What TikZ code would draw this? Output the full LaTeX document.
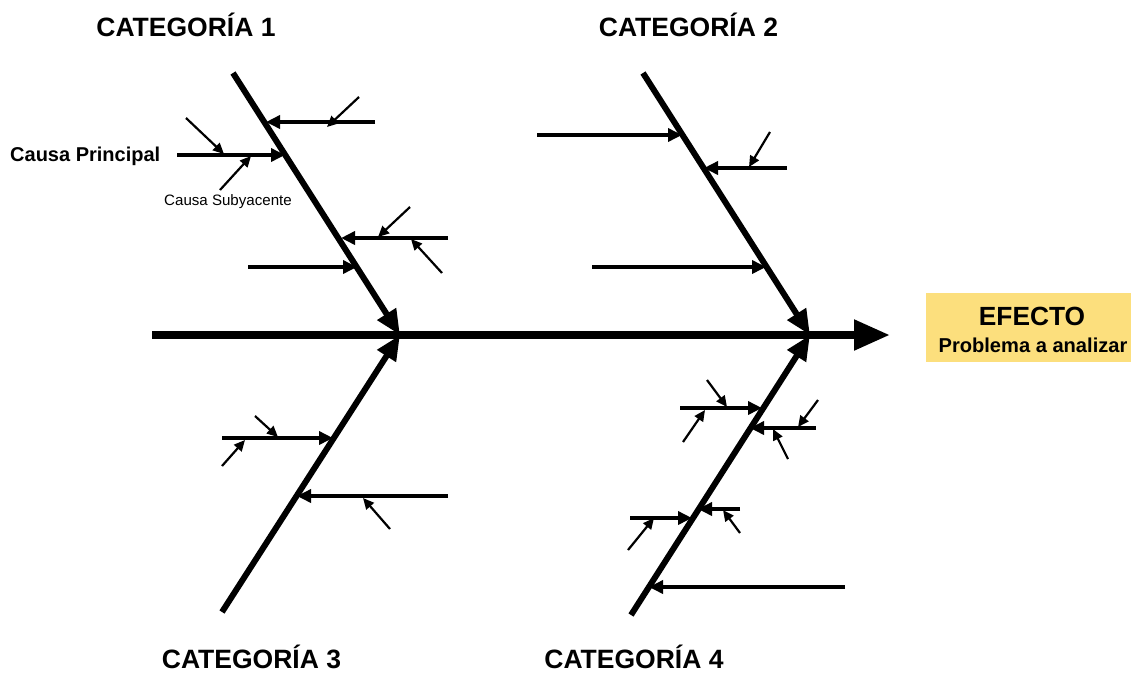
\documentclass[tikz,border=0pt]{standalone}
\usepackage{fontspec}
\setmainfont{Liberation Sans}
\usetikzlibrary{arrows.meta}
\definecolor{efecto}{RGB}{252,223,125}
\begin{document}
\begin{tikzpicture}[x=1pt,y=-1pt,
  spine/.style={line width=8pt,-{Triangle[length=36pt,width=29pt]}},
  bone/.style={line width=6pt,-{Triangle[length=25pt,width=21pt]}},
  cause/.style={line width=4.8pt,-{Triangle[length=14pt,width=13pt]}},
  subcause/.style={line width=2.2pt,-{Triangle[length=11pt,width=10pt]}},
  cattitle/.style={font=\bfseries\fontsize{26.5}{30}\selectfont,inner sep=0pt,anchor=base},
]
\useasboundingbox (0,0) rectangle (1131,673);

% main spine towards the effect
\coordinate (sp0) at (152,335);
\coordinate (sp1) at (890,335);
\draw[spine] (sp0) -- (sp1);

% effect box
\node[fill=efecto,minimum width=205pt,minimum height=69pt,inner sep=0pt] (eff) at (1028.5,327.5) {};
\node[font=\bfseries\fontsize{26.3}{29}\selectfont,inner sep=0pt] (effT) at (1032,316) {EFECTO};
\node[font=\bfseries\fontsize{20.1}{23}\selectfont,inner sep=0pt] (effS) at (1033,345) {Problema a analizar};

% category bones
\coordinate (b1s) at (233,73);  \coordinate (b1e) at (400,335);
\coordinate (b2s) at (643,73);  \coordinate (b2e) at (810,335);
\coordinate (b3s) at (222,612); \coordinate (b3e) at (400,335);
\coordinate (b4s) at (631,615); \coordinate (b4e) at (810,335);
\draw[bone] (b1s) -- (b1e);
\draw[bone] (b2s) -- (b2e);
\draw[bone] (b3s) -- (b3e);
\draw[bone] (b4s) -- (b4e);

% category titles
\node[cattitle] (t1) at (186,36) {CATEGORÍA 1};
\node[cattitle] (t2) at (688.5,36) {CATEGORÍA 2};
\node[cattitle] (t3) at (251.5,668) {CATEGORÍA 3};
\node[cattitle] (t4) at (634,668) {CATEGORÍA 4};

% --- category 1 causes
\coordinate (c11a) at (375,122); \coordinate (c11b) at (266,122);
\coordinate (s11a) at (359,97);  \coordinate (s11b) at (327,127);
\draw[cause] (c11a) -- (c11b);
\draw[subcause] (s11a) -- (s11b);

\coordinate (c12a) at (177,155); \coordinate (c12b) at (285,155);
\coordinate (s12a) at (186,118); \coordinate (s12b) at (224,154);
\coordinate (s13a) at (220,190); \coordinate (s13b) at (251,156);
\draw[cause] (c12a) -- (c12b);
\draw[subcause] (s12a) -- (s12b);
\draw[subcause] (s13a) -- (s13b);
\node[font=\bfseries\fontsize{20}{23}\selectfont,anchor=west,inner sep=0pt] (cp) at (10,156) {Causa Principal};
\node[font=\fontsize{15.1}{18}\selectfont,anchor=west,inner sep=0pt] (cs) at (164,202) {Causa Subyacente};

\coordinate (c13a) at (448,238); \coordinate (c13b) at (341,238);
\coordinate (s14a) at (410,207); \coordinate (s14b) at (378,237);
\coordinate (s15a) at (442,273); \coordinate (s15b) at (411,239);
\draw[cause] (c13a) -- (c13b);
\draw[subcause] (s14a) -- (s14b);
\draw[subcause] (s15a) -- (s15b);

\coordinate (c14a) at (248,267); \coordinate (c14b) at (357,267);
\draw[cause] (c14a) -- (c14b);

% --- category 2 causes
\coordinate (c21a) at (537,135); \coordinate (c21b) at (682,135);
\draw[cause] (c21a) -- (c21b);

\coordinate (c22a) at (787,168); \coordinate (c22b) at (704,168);
\coordinate (s21a) at (770,132); \coordinate (s21b) at (749,167);
\draw[cause] (c22a) -- (c22b);
\draw[subcause] (s21a) -- (s21b);

\coordinate (c23a) at (592,267); \coordinate (c23b) at (766,267);
\draw[cause] (c23a) -- (c23b);

% --- category 3 causes
\coordinate (c31a) at (222,438); \coordinate (c31b) at (333,438);
\coordinate (s31a) at (255,416); \coordinate (s31b) at (278,437);
\coordinate (s32a) at (222,466); \coordinate (s32b) at (245,440);
\draw[cause] (c31a) -- (c31b);
\draw[subcause] (s31a) -- (s31b);
\draw[subcause] (s32a) -- (s32b);

\coordinate (c32a) at (448,496); \coordinate (c32b) at (297,496);
\coordinate (s33a) at (390,529); \coordinate (s33b) at (363,498);
\draw[cause] (c32a) -- (c32b);
\draw[subcause] (s33a) -- (s33b);

% --- category 4 causes
\coordinate (c41a) at (680,408); \coordinate (c41b) at (762,408);
\coordinate (s41a) at (707,380); \coordinate (s41b) at (727,407);
\coordinate (s42a) at (683,442); \coordinate (s42b) at (705,410);
\draw[cause] (c41a) -- (c41b);
\draw[subcause] (s41a) -- (s41b);
\draw[subcause] (s42a) -- (s42b);

\coordinate (c42a) at (816,428); \coordinate (c42b) at (750,428);
\coordinate (s43a) at (818,400); \coordinate (s43b) at (798,427);
\coordinate (s44a) at (788,459); \coordinate (s44b) at (773,429);
\draw[cause] (c42a) -- (c42b);
\draw[subcause] (s43a) -- (s43b);
\draw[subcause] (s44a) -- (s44b);

\coordinate (c43a) at (630,518); \coordinate (c43b) at (692,518);
\coordinate (s45a) at (628,550); \coordinate (s45b) at (654,518);
\draw[cause] (c43a) -- (c43b);
\draw[subcause] (s45a) -- (s45b);

\coordinate (c44a) at (740,509); \coordinate (c44b) at (698,509);
\coordinate (s46a) at (740,533); \coordinate (s46b) at (723,510);
\draw[cause] (c44a) -- (c44b);
\draw[subcause] (s46a) -- (s46b);

\coordinate (c45a) at (845,587); \coordinate (c45b) at (649,587);
\draw[cause] (c45a) -- (c45b);
\end{tikzpicture}
\end{document}
